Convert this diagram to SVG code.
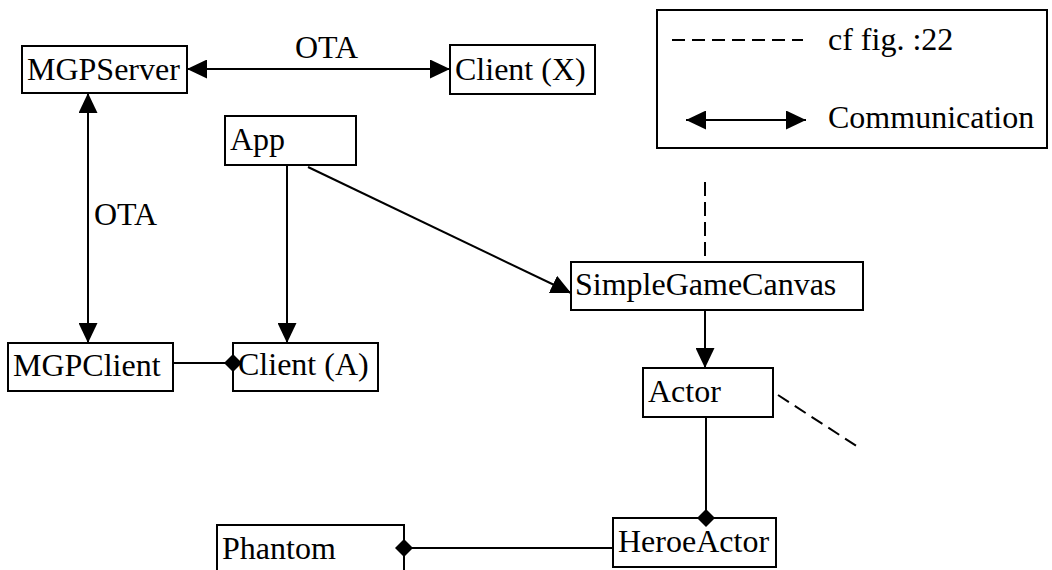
<svg xmlns="http://www.w3.org/2000/svg" width="1052" height="570" viewBox="0 0 1052 570">
  <style>
    .box { fill: #fff; stroke: #000; stroke-width: 2; }
    .lbl { font-family: 'Liberation Serif', 'Times New Roman', serif; font-size: 32px; fill: #000; }
    .ln { fill: none; stroke: #000; stroke-width: 2; }
    .dash { fill: none; stroke: #000; stroke-width: 2; stroke-dasharray: 13 7; }
    .vdash { fill: none; stroke: #000; stroke-width: 2; stroke-dasharray: 14 6; }
    .end { fill: #000; }
  </style>
  <defs>
    <!-- filled triangular arrowhead, 20 long x 19 wide -->
    <marker id="arrow" viewBox="0 0 20 19" refX="20" refY="9.5" markerWidth="20" markerHeight="19" markerUnits="userSpaceOnUse" orient="auto-start-reverse">
      <path d="M0,0 L20,9.5 L0,19 z" fill="#000"/>
    </marker>
  </defs>

  <rect width="1052" height="570" fill="#fff"/>

  <!-- legend -->
  <g id="legend">
    <rect class="box" x="657" y="10" width="390" height="138"/>
    <line class="dash" x1="672" y1="40" x2="803" y2="40"/>
    <text class="lbl" x="828" y="50">cf fig. :22</text>
    <line class="ln" x1="686" y1="120" x2="806" y2="120" marker-start="url(#arrow)" marker-end="url(#arrow)"/>
    <text class="lbl" x="828" y="128">Communication</text>
  </g>

  <!-- connectors -->
  <g id="connectors">
    <line class="ln" x1="187" y1="69" x2="450" y2="69" marker-start="url(#arrow)" marker-end="url(#arrow)"/>
    <text class="lbl" x="295" y="58">OTA</text>
    <line class="ln" x1="88" y1="93" x2="88" y2="343" marker-start="url(#arrow)" marker-end="url(#arrow)"/>
    <text class="lbl" x="94" y="225">OTA</text>
    <line class="ln" x1="287" y1="162" x2="287" y2="343" marker-end="url(#arrow)"/>
    <line class="ln" x1="308" y1="167" x2="571" y2="293" marker-end="url(#arrow)"/>
    <line class="ln" x1="173" y1="363" x2="233" y2="363"/>
    <line class="ln" x1="705" y1="310" x2="705" y2="368" marker-end="url(#arrow)"/>
    <line class="ln" x1="706" y1="417" x2="706" y2="518"/>
    <line class="ln" x1="404" y1="548" x2="613" y2="548"/>
    <line class="vdash" x1="705" y1="182" x2="705" y2="262"/>
    <line class="dash" x1="778" y1="395" x2="858" y2="447"/>
  </g>

  <g id="mgpserver">
    <rect class="box" x="22" y="46" width="165" height="47"/>
    <text class="lbl" x="27" y="80">MGPServer</text>
  </g>
  <g id="client-x">
    <rect class="box" x="450" y="45" width="145" height="49"/>
    <text class="lbl" x="455" y="80">Client (X)</text>
  </g>
  <g id="app">
    <rect class="box" x="225" y="116" width="131" height="49"/>
    <text class="lbl" x="230" y="150">App</text>
  </g>
  <g id="mgpclient">
    <rect class="box" x="8" y="343" width="165" height="48"/>
    <text class="lbl" x="13" y="376">MGPClient</text>
  </g>
  <g id="client-a">
    <rect class="box" x="233" y="343" width="145" height="48"/>
    <text class="lbl" x="238" y="375">Client (A)</text>
  </g>
  <g id="simplegamecanvas">
    <rect class="box" x="571" y="262" width="292" height="48"/>
    <text class="lbl" x="575" y="295">SimpleGameCanvas</text>
  </g>
  <g id="actor">
    <rect class="box" x="643" y="368" width="130" height="49"/>
    <text class="lbl" x="648" y="402">Actor</text>
  </g>
  <g id="heroeactor">
    <rect class="box" x="613" y="518" width="163" height="49"/>
    <text class="lbl" x="618" y="552">HeroeActor</text>
  </g>
  <g id="phantom">
    <rect class="box" x="217" y="525" width="187" height="60"/>
    <text class="lbl" x="222" y="559">Phantom</text>
  </g>

  <!-- aggregation diamonds, drawn over the box edges -->
  <g id="connector-ends">
    <path class="end" d="M224,363 L233,354 L242,363 L233,372 z"/>
    <path class="end" d="M697,518 L706,509 L715,518 L706,527 z"/>
    <path class="end" d="M395,548 L404,539 L413,548 L404,557 z"/>
  </g>
</svg>
